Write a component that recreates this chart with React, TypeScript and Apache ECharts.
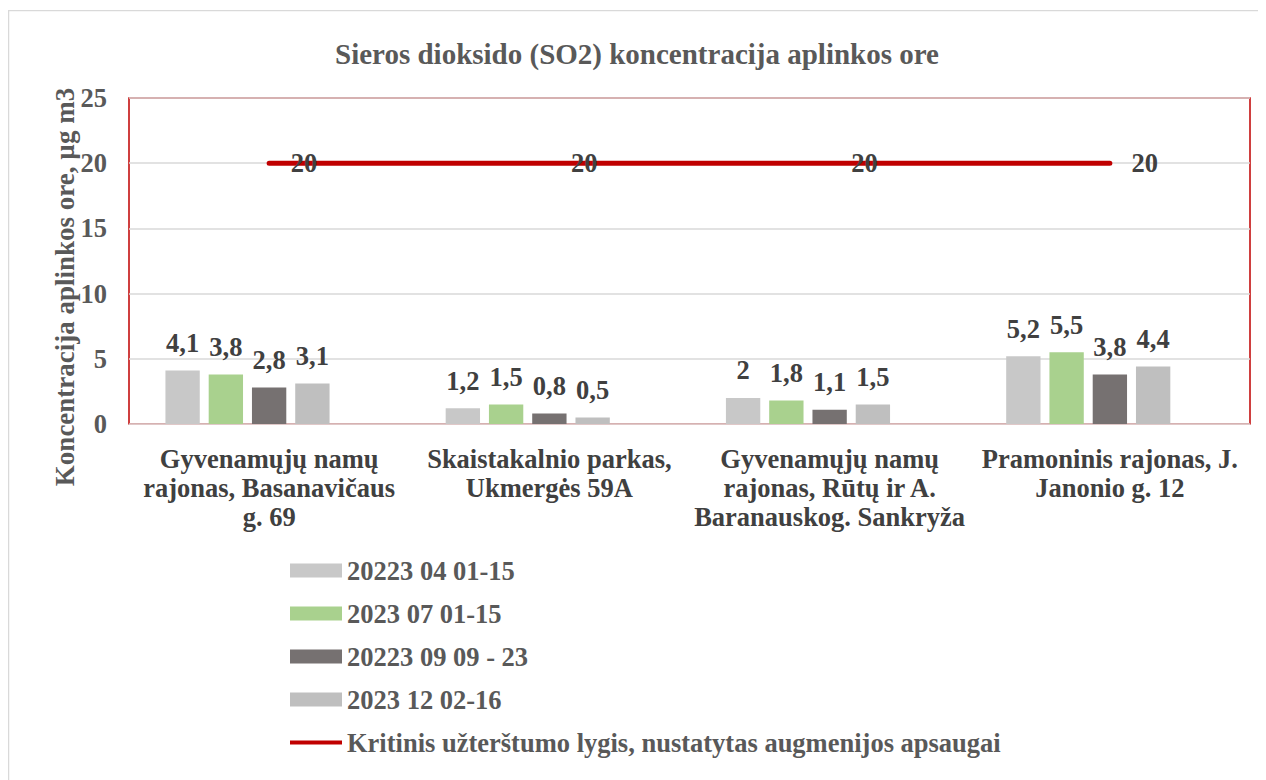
import React, { useEffect, useRef } from "react";
import * as echarts from "echarts";

const categories = [
  "Gyvenamųjų namų\nrajonas, Basanavičaus\ng. 69",
  "Skaistakalnio parkas,\nUkmergės 59A",
  "Gyvenamųjų namų\nrajonas, Rūtų ir A.\nBaranauskog. Sankryža",
  "Pramoninis rajonas, J.\nJanonio g. 12",
];
const seriesNames = [
  "20223 04 01-15",
  "2023 07 01-15",
  "20223 09 09 - 23",
  "2023 12 02-16",
];
const lineName = "Kritinis užterštumo lygis, nustatytas augmenijos apsaugai";
const yAxisTitle = "Koncentracija aplinkos ore, µg m3";
const s1 = [4.1, 1.2, 2, 5.2];
const s2 = [3.8, 1.5, 1.8, 5.5];
const s3 = [2.8, 0.8, 1.1, 3.8];
const s4 = [3.1, 0.5, 1.5, 4.4];
const limit = [20, 20, 20, 20];
const colors = ["#c8c8c8", "#a9d18e", "#767171", "#bfbfbf"];

const FONT = "'Liberation Serif', 'Times New Roman', serif";
const FS = 26.5;

export default function App() {
  const ref = useRef<HTMLDivElement>(null);
  useEffect(() => {
    if (!ref.current) return;
    const chart = echarts.init(ref.current, undefined, { renderer: "svg" });
    const barData = [s1, s2, s3, s4];
    const bars = barData.map((d, i) => ({
      name: seriesNames[i],
      type: "bar",
      data: d,
      itemStyle: { color: colors[i] },
      barGap: "26%",
      barCategoryGap: "26%",
      label: {
        show: true,
        position: "top",
        distance: 14,
        fontFamily: FONT,
        fontWeight: "bold",
        fontSize: FS,
        color: "#404040",
        formatter: (p: any) => String(p.value).replace(".", ","),
      },
    }));
    chart.setOption({
      animation: false,
      textStyle: { fontFamily: FONT },
      graphic: [
        {
          type: "rect",
          shape: { x: 0.5, y: 0.5, width: 1400, height: 1000 },
          style: { fill: "none", stroke: "#d9d9d9", lineWidth: 1.5 },
          silent: true,
        },
        {
          type: "text",
          x: 57,
          y: 277,
          rotation: Math.PI / 2,
          silent: true,
          style: {
            text: yAxisTitle,
            align: "center",
            verticalAlign: "middle",
            fontFamily: FONT,
            fontWeight: "bold",
            fontSize: 27,
            fill: "#595959",
          },
        },
      ],
      title: {
        text: "Sieros dioksido (SO2) koncentracija aplinkos ore",
        left: "center",
        top: 24,
        textStyle: {
          fontFamily: FONT,
          fontWeight: "bold",
          fontSize: 29,
          color: "#595959",
        },
      },
      legend: {
        orient: "vertical",
        left: 282,
        top: 546,
        padding: 0,
        itemWidth: 52,
        itemHeight: 14,
        itemGap: 14,
        data: [
          ...seriesNames.map((n) => ({ name: n, icon: "rect" })),
          { name: lineName, icon: "path://M0,0L52,0L52,4L0,4Z" },
        ],
        textStyle: {
          fontFamily: FONT,
          fontWeight: "bold",
          fontSize: FS,
          lineHeight: 29,
          color: "#595959",
        },
      },
      grid: {
        left: 121,
        right: 16,
        top: 88,
        bottom: 356,
        show: true,
        borderColor: "#c00000",
        borderWidth: 1.5,
      },
      xAxis: {
        type: "category",
        data: categories,
        axisLine: { lineStyle: { color: "#e0c8c8" } },
        axisTick: { show: false },
        axisLabel: {
          interval: 0,
          margin: 20,
          fontFamily: FONT,
          fontWeight: "bold",
          fontSize: FS,
          lineHeight: 29,
          color: "#404040",
        },
      },
      yAxis: {
        type: "value",
        min: 0,
        max: 25,
        interval: 5,
        axisLine: { show: false },
        axisTick: { show: false },
        splitLine: { lineStyle: { color: "#d9d9d9", width: 1.5 } },
        axisLabel: {
          margin: 22,
          fontFamily: FONT,
          fontWeight: "bold",
          fontSize: FS,
          color: "#595959",
        },
      },
      series: [
        ...bars,
        {
          name: "_spacer",
          type: "bar",
          data: [null, null, null, null],
          barGap: "26%",
          barCategoryGap: "26%",
        },
        {
          name: lineName,
          type: "line",
          data: limit,
          symbol: "circle",
          symbolSize: 1,
          itemStyle: { color: "#c00000" },
          lineStyle: { color: "#c00000", width: 5, cap: "round" },
          label: {
            show: true,
            position: "right",
            distance: 21,
            fontFamily: FONT,
            fontWeight: "bold",
            fontSize: FS,
            color: "#404040",
          },
        },
      ],
    });
    return () => chart.dispose();
  }, []);
  return (
    <div
      ref={ref}
      style={{ width: 1258, height: 770, marginTop: 2 }}
    />
  );
}
